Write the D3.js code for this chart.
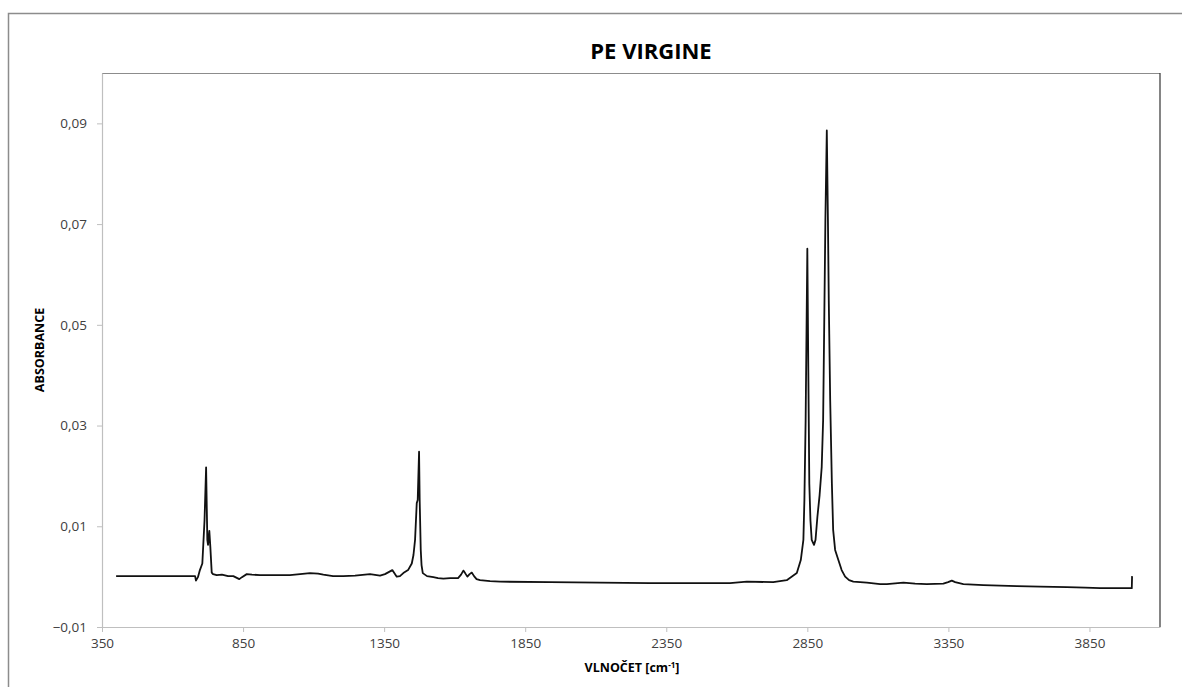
<!DOCTYPE html>
<html>
<head>
<meta charset="utf-8">
<script src="https://cdn.jsdelivr.net/npm/d3@7"></script>
<style>
  body { margin: 0; background: #fff; }
  svg { display: block; }
</style>
</head>
<body>
<svg id="chart" width="1182" height="687"></svg>
<script>
(function() {
  'use strict';

  // spectrum
  var wavenumbers = [
    400, 680, 683, 690, 697, 705.6, 713.4, 719, 723.3, 725.8, 730.4, 734, 738.9, 743.5, 756.6,
    775, 797, 815.5, 836.7, 846, 863, 881.8, 910, 969, 1016, 1052, 1087, 1116, 1134.5, 1169,
    1205, 1247, 1300, 1335.5, 1353, 1379, 1394.7, 1406, 1418, 1434.8, 1448, 1454, 1459.6,
    1465.6, 1469, 1473.8, 1476, 1479.8, 1482.6, 1487, 1502, 1524.5, 1541, 1560, 1583.7, 1612,
    1622.7, 1630.8, 1637, 1645, 1653, 1660.6, 1668.7, 1677.6, 1690, 1725.5, 1761, 1938, 2115,
    2292.7, 2470, 2576, 2635.5, 2729, 2777, 2812.7, 2826.8, 2836, 2839.6, 2844, 2847.5, 2850,
    2853.5, 2857, 2861, 2865.5, 2873.6, 2879, 2885.7, 2893.5, 2901, 2906, 2909.5, 2914, 2919,
    2923, 2926, 2931, 2937, 2941.5, 2948.5, 2960, 2971.6, 2984, 2998, 3013, 3061, 3108, 3132,
    3190.6, 3232, 3273, 3332, 3349, 3362, 3374, 3403, 3474, 3592.6, 3675, 3770, 3835, 3888,
    3958, 4000, 4001
  ];
  var absorbance = [
    0.0001, 0.0001, -0.0008, -0.0001, 0.0013, 0.0026, 0.0112, 0.0217, 0.0073, 0.0063, 0.0091,
    0.0059, 0.0008, 0.0005, 0.0003, 0.0004, 0.0001, 0.0001, -0.0005, -0.0001, 0.0005, 0.0004,
    0.0003, 0.0003, 0.0003, 0.0005, 0.0007, 0.0006, 0.0004, 0.0001, 0.0001, 0.0002, 0.0005,
    0.0002, 0.0005, 0.0013, 0.0000, 0.0001, 0.0007, 0.0013, 0.0026, 0.0043, 0.0073, 0.0146,
    0.0152, 0.0248, 0.0152, 0.0053, 0.0023, 0.0007, 0.0001, -0.0001, -0.0003, -0.0004, -0.0003,
    -0.0003, 0.0004, 0.0012, 0.0007, 0.0000, 0.0005, 0.0008, 0.0001, -0.0005, -0.0007, -0.0009,
    -0.0010, -0.0011, -0.0012, -0.0013, -0.0013, -0.0013, -0.0010, -0.0011, -0.0007, 0.0007,
    0.0033, 0.0073, 0.0152, 0.0311, 0.0510, 0.0651, 0.0410, 0.0185, 0.0112, 0.0073, 0.0063,
    0.0073, 0.0119, 0.0162, 0.0218, 0.0311, 0.0483, 0.0708, 0.0886, 0.0708, 0.0549, 0.0351,
    0.0185, 0.0093, 0.0053, 0.0033, 0.0013, 0.0000, -0.0007, -0.0010, -0.0012, -0.0015, -0.0015,
    -0.0012, -0.0014, -0.0015, -0.0014, -0.0011, -0.0008, -0.0011, -0.0015, -0.0017, -0.0019,
    -0.0020, -0.0021, -0.0022, -0.0023, -0.0023, -0.0023, 0.0001
  ];
  var xTicks = [350, 850, 1350, 1850, 2350, 2850, 3350, 3850];
  var yTicks = [-0.01, 0.01, 0.03, 0.05, 0.07, 0.09];

  var points = wavenumbers.map(function(w, i) { return [w, absorbance[i]]; });

  var svg = d3.select("#chart");
  var margin = { top: 73, right: 22, bottom: 60, left: 102 };
  var width = 1182 - margin.left - margin.right;
  var height = 687 - margin.top - margin.bottom;
  var font = "'Open Sans', 'Liberation Sans', sans-serif";

  var fmt = d3.formatLocale({ decimal: ",", thousands: " ", grouping: [3], currency: ["", ""] }).format(".2f");

  // outer chart frame (right and bottom run off the page)
  svg.append("rect")
    .attr("x", 8.5).attr("y", 13.5)
    .attr("width", 1200).attr("height", 700)
    .attr("fill", "none")
    .attr("stroke", "#8c8c8c")
    .attr("stroke-width", 1.5);

  var x = d3.scaleLinear().domain([350, 4100]).range([0, width]);
  var y = d3.scaleLinear().domain([-0.01, 0.1]).range([height, 0]);

  var g = svg.append("g")
    .attr("transform", "translate(" + margin.left + "," + margin.top + ")");

  // plot area frame: grey top, dark right edge
  g.append("line")
    .attr("x1", 0).attr("x2", width).attr("y1", 0.5).attr("y2", 0.5)
    .attr("stroke", "#8c8c8c").attr("stroke-width", 1.2);
  g.append("line")
    .attr("x1", width).attr("x2", width).attr("y1", 0).attr("y2", height)
    .attr("stroke", "#333").attr("stroke-width", 1.2);

  var xAxis = g.append("g")
    .attr("transform", "translate(0," + height + ")")
    .call(d3.axisBottom(x).tickValues(xTicks).tickFormat(d3.format("d"))
      .tickSize(5).tickSizeOuter(0).tickPadding(6));

  var yAxis = g.append("g")
    .call(d3.axisLeft(y).tickValues(yTicks).tickFormat(fmt).tickSize(5).tickSizeOuter(0).tickPadding(10));

  [xAxis, yAxis].forEach(function(ax) {
    ax.select(".domain").attr("stroke", "#bfbfbf").attr("stroke-width", 1.2);
    ax.selectAll(".tick line").attr("stroke", "#bfbfbf");
    ax.selectAll(".tick text")
      .attr("fill", "#404040")
      .style("font-family", font)
      .style("font-size", "13.5px");
  });

  var line = d3.line()
    .x(function(d) { return x(d[0]); })
    .y(function(d) { return y(d[1]); });

  g.append("path")
    .datum(points)
    .attr("fill", "none")
    .attr("stroke", "#111")
    .attr("stroke-width", 1.8)
    .attr("stroke-linejoin", "round")
    .attr("d", line);

  svg.append("text")
    .attr("x", 651).attr("y", 59)
    .attr("text-anchor", "middle")
    .style("font-family", font)
    .style("font-size", "22px")
    .style("font-weight", "bold")
    .attr("fill", "#000")
    .text("PE VIRGINE");

  var xt = svg.append("text")
    .attr("x", 632).attr("y", 672)
    .attr("text-anchor", "middle")
    .style("font-family", font)
    .style("font-size", "12.5px")
    .style("font-weight", "bold")
    .attr("fill", "#000");
  xt.append("tspan").text("VLNOČET [cm");
  xt.append("tspan").attr("dy", -4).style("font-size", "8px").text("-1");
  xt.append("tspan").attr("dy", 4).text("]");

  svg.append("text")
    .attr("transform", "translate(44," + (margin.top + height / 2) + ") rotate(-90)")
    .attr("text-anchor", "middle")
    .style("font-family", font)
    .style("font-size", "12.5px")
    .style("font-weight", "bold")
    .attr("fill", "#000")
    .text("ABSORBANCE");
}());
</script>
</body>
</html>
